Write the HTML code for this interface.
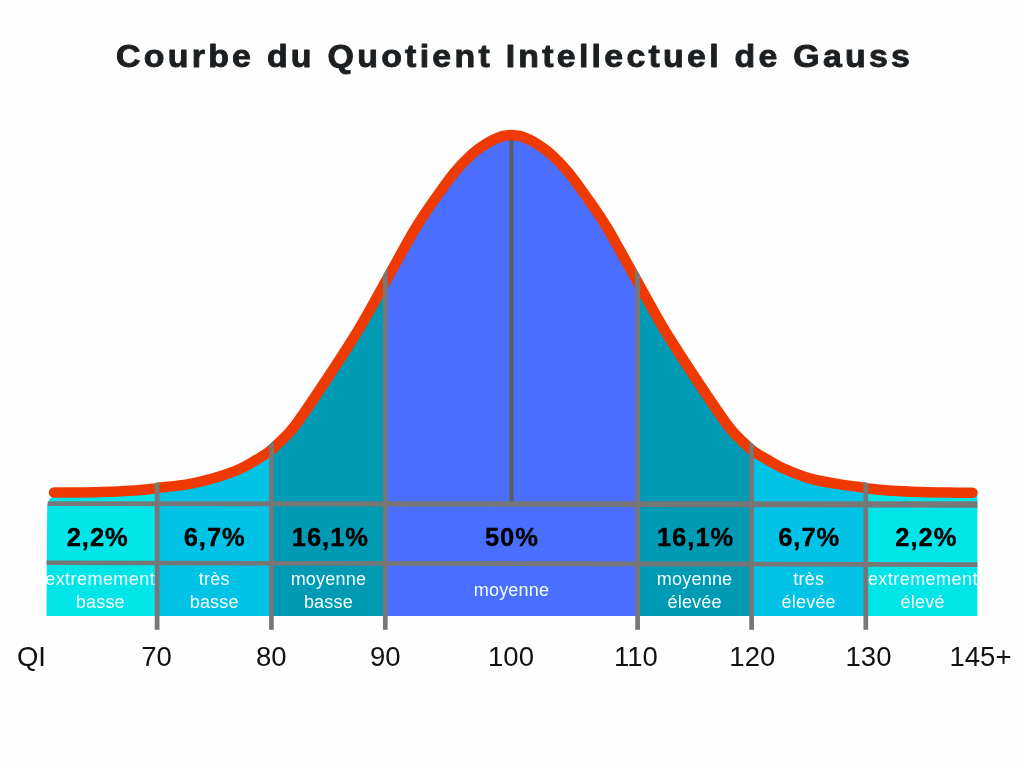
<!DOCTYPE html>
<html lang="fr"><head><meta charset="utf-8"><title>Courbe du Quotient Intellectuel de Gauss</title>
<style>
html,body{margin:0;padding:0;background:#fefefe;}
body{width:1024px;height:768px;overflow:hidden;position:relative;font-family:"Liberation Sans",sans-serif;}
svg{position:absolute;left:0;top:0;display:block}
.title{font:bold 32px "Liberation Sans",sans-serif;fill:#1b1f21;stroke:#1b1f21;stroke-width:0.9px;stroke-linejoin:round;letter-spacing:3.07px}
.pct{font:bold 25.5px "Liberation Sans",sans-serif;fill:#000;stroke:#000;stroke-width:0.35px;text-anchor:middle;letter-spacing:1px}
.lab{font:18px "Liberation Sans",sans-serif;fill:#f4ffff;text-anchor:middle;letter-spacing:0.2px}
.ex{letter-spacing:0.45px}
.ax{font:27.5px "Liberation Sans",sans-serif;fill:#111;text-anchor:middle}
</style></head><body>
<svg width="1024" height="768" viewBox="0 0 1024 768">
<defs>
<clipPath id="under"><path d="M45.90 616.10 L47.30 505.00 Q48.60 498.50 52.00 497.50 L54.00 492.50 C57.50 492.50 66.92 492.58 75.00 492.50 C83.08 492.42 93.33 492.28 102.50 492.00 C111.67 491.72 121.67 491.34 130.00 490.80 C138.33 490.26 147.50 489.30 152.50 488.75 C157.50 488.20 154.17 488.24 160.00 487.50 C165.83 486.76 178.75 485.80 187.50 484.30 C196.25 482.80 204.17 480.88 212.50 478.50 C220.83 476.12 230.21 473.10 237.50 470.00 C244.79 466.90 251.04 462.92 256.25 459.90 C261.46 456.88 265.12 454.60 268.75 451.90 C272.38 449.20 273.68 448.02 278.00 443.70 C282.32 439.38 286.45 436.95 294.70 426.00 C302.95 415.05 316.70 394.33 327.50 378.00 C338.30 361.67 349.50 344.67 359.50 328.00 C369.50 311.33 378.35 294.33 387.50 278.00 C396.65 261.67 407.32 242.00 414.40 230.00 C421.48 218.00 423.33 215.58 430.00 206.00 C436.67 196.42 447.40 181.15 454.40 172.50 C461.40 163.85 466.23 159.18 472.00 154.10 C477.77 149.02 484.33 144.85 489.00 142.00 C493.67 139.15 497.17 138.07 500.00 137.00 C502.83 135.93 504.09 135.93 506.00 135.60 C507.91 135.27 509.63 135.00 511.45 135.00 C513.27 135.00 514.99 135.27 516.90 135.60 C518.81 135.93 520.07 135.93 522.90 137.00 C525.73 138.07 529.23 139.15 533.90 142.00 C538.57 144.85 545.13 149.02 550.90 154.10 C556.67 159.18 561.50 163.85 568.50 172.50 C575.50 181.15 586.23 196.42 592.90 206.00 C599.57 215.58 601.42 218.00 608.50 230.00 C615.58 242.00 626.25 261.67 635.40 278.00 C644.55 294.33 653.40 311.33 663.40 328.00 C673.40 344.67 684.60 361.67 695.40 378.00 C706.20 394.33 719.95 415.05 728.20 426.00 C736.45 436.95 740.58 439.42 744.90 443.70 C749.22 447.98 750.52 449.12 754.15 451.70 C757.77 454.28 761.44 456.27 766.65 459.20 C771.86 462.13 778.11 466.07 785.40 469.30 C792.69 472.53 802.07 476.22 810.40 478.60 C818.73 480.98 826.65 482.12 835.40 483.60 C844.15 485.08 857.07 486.64 862.90 487.50 C868.73 488.36 865.40 488.20 870.40 488.75 C875.40 489.30 884.57 490.26 892.90 490.80 C901.23 491.34 910.88 491.70 920.40 492.00 C929.92 492.30 941.32 492.47 950.00 492.60 C958.68 492.73 968.75 492.77 972.50 492.80 L977.40 492.80 L977.40 616.10 L46.50 616.10 Z"/></clipPath>
<mask id="outer" maskUnits="userSpaceOnUse" x="0" y="0" width="1024" height="768"><path d="M45.90 616.10 L47.30 505.00 Q48.60 498.50 52.00 497.50 L54.00 492.50 C57.50 492.50 66.92 492.58 75.00 492.50 C83.08 492.42 93.33 492.28 102.50 492.00 C111.67 491.72 121.67 491.34 130.00 490.80 C138.33 490.26 147.50 489.30 152.50 488.75 C157.50 488.20 154.17 488.24 160.00 487.50 C165.83 486.76 178.75 485.80 187.50 484.30 C196.25 482.80 204.17 480.88 212.50 478.50 C220.83 476.12 230.21 473.10 237.50 470.00 C244.79 466.90 251.04 462.92 256.25 459.90 C261.46 456.88 265.12 454.60 268.75 451.90 C272.38 449.20 273.68 448.02 278.00 443.70 C282.32 439.38 286.45 436.95 294.70 426.00 C302.95 415.05 316.70 394.33 327.50 378.00 C338.30 361.67 349.50 344.67 359.50 328.00 C369.50 311.33 378.35 294.33 387.50 278.00 C396.65 261.67 407.32 242.00 414.40 230.00 C421.48 218.00 423.33 215.58 430.00 206.00 C436.67 196.42 447.40 181.15 454.40 172.50 C461.40 163.85 466.23 159.18 472.00 154.10 C477.77 149.02 484.33 144.85 489.00 142.00 C493.67 139.15 497.17 138.07 500.00 137.00 C502.83 135.93 504.09 135.93 506.00 135.60 C507.91 135.27 509.63 135.00 511.45 135.00 C513.27 135.00 514.99 135.27 516.90 135.60 C518.81 135.93 520.07 135.93 522.90 137.00 C525.73 138.07 529.23 139.15 533.90 142.00 C538.57 144.85 545.13 149.02 550.90 154.10 C556.67 159.18 561.50 163.85 568.50 172.50 C575.50 181.15 586.23 196.42 592.90 206.00 C599.57 215.58 601.42 218.00 608.50 230.00 C615.58 242.00 626.25 261.67 635.40 278.00 C644.55 294.33 653.40 311.33 663.40 328.00 C673.40 344.67 684.60 361.67 695.40 378.00 C706.20 394.33 719.95 415.05 728.20 426.00 C736.45 436.95 740.58 439.42 744.90 443.70 C749.22 447.98 750.52 449.12 754.15 451.70 C757.77 454.28 761.44 456.27 766.65 459.20 C771.86 462.13 778.11 466.07 785.40 469.30 C792.69 472.53 802.07 476.22 810.40 478.60 C818.73 480.98 826.65 482.12 835.40 483.60 C844.15 485.08 857.07 486.64 862.90 487.50 C868.73 488.36 865.40 488.20 870.40 488.75 C875.40 489.30 884.57 490.26 892.90 490.80 C901.23 491.34 910.88 491.70 920.40 492.00 C929.92 492.30 941.32 492.47 950.00 492.60 C958.68 492.73 968.75 492.77 972.50 492.80 L977.40 492.80 L977.40 616.10 L46.50 616.10 Z" fill="#fff"/><path d="M54.00 492.50 C57.50 492.50 66.92 492.58 75.00 492.50 C83.08 492.42 93.33 492.28 102.50 492.00 C111.67 491.72 121.67 491.34 130.00 490.80 C138.33 490.26 147.50 489.30 152.50 488.75 C157.50 488.20 154.17 488.24 160.00 487.50 C165.83 486.76 178.75 485.80 187.50 484.30 C196.25 482.80 204.17 480.88 212.50 478.50 C220.83 476.12 230.21 473.10 237.50 470.00 C244.79 466.90 251.04 462.92 256.25 459.90 C261.46 456.88 265.12 454.60 268.75 451.90 C272.38 449.20 273.68 448.02 278.00 443.70 C282.32 439.38 286.45 436.95 294.70 426.00 C302.95 415.05 316.70 394.33 327.50 378.00 C338.30 361.67 349.50 344.67 359.50 328.00 C369.50 311.33 378.35 294.33 387.50 278.00 C396.65 261.67 407.32 242.00 414.40 230.00 C421.48 218.00 423.33 215.58 430.00 206.00 C436.67 196.42 447.40 181.15 454.40 172.50 C461.40 163.85 466.23 159.18 472.00 154.10 C477.77 149.02 484.33 144.85 489.00 142.00 C493.67 139.15 497.17 138.07 500.00 137.00 C502.83 135.93 504.09 135.93 506.00 135.60 C507.91 135.27 509.63 135.00 511.45 135.00 C513.27 135.00 514.99 135.27 516.90 135.60 C518.81 135.93 520.07 135.93 522.90 137.00 C525.73 138.07 529.23 139.15 533.90 142.00 C538.57 144.85 545.13 149.02 550.90 154.10 C556.67 159.18 561.50 163.85 568.50 172.50 C575.50 181.15 586.23 196.42 592.90 206.00 C599.57 215.58 601.42 218.00 608.50 230.00 C615.58 242.00 626.25 261.67 635.40 278.00 C644.55 294.33 653.40 311.33 663.40 328.00 C673.40 344.67 684.60 361.67 695.40 378.00 C706.20 394.33 719.95 415.05 728.20 426.00 C736.45 436.95 740.58 439.42 744.90 443.70 C749.22 447.98 750.52 449.12 754.15 451.70 C757.77 454.28 761.44 456.27 766.65 459.20 C771.86 462.13 778.11 466.07 785.40 469.30 C792.69 472.53 802.07 476.22 810.40 478.60 C818.73 480.98 826.65 482.12 835.40 483.60 C844.15 485.08 857.07 486.64 862.90 487.50 C868.73 488.36 865.40 488.20 870.40 488.75 C875.40 489.30 884.57 490.26 892.90 490.80 C901.23 491.34 910.88 491.70 920.40 492.00 C929.92 492.30 941.32 492.47 950.00 492.60 C958.68 492.73 968.75 492.77 972.50 492.80" fill="none" stroke="#fff" stroke-width="10.5" stroke-linecap="round"/><rect x="0" y="500" width="1024" height="200" fill="#fff"/></mask>
</defs>
<text x="0" y="0" transform="translate(116 67.4) scale(1.06 1)" class="title">Courbe du Quotient Intellectuel de Gauss</text>
<g clip-path="url(#under)">
<rect x="46.50" y="100" width="111.10" height="516.10" fill="#02e5e8"/>
<rect x="157.10" y="100" width="114.80" height="516.10" fill="#00c3e6"/>
<rect x="271.40" y="100" width="114.40" height="516.10" fill="#009ab4"/>
<rect x="385.30" y="100" width="252.80" height="516.10" fill="#4a6eff"/>
<rect x="637.60" y="100" width="114.50" height="516.10" fill="#009ab4"/>
<rect x="751.60" y="100" width="114.70" height="516.10" fill="#00c3e6"/>
<rect x="865.80" y="100" width="112.10" height="516.10" fill="#02e5e8"/>
</g>
<rect x="509.50" y="135" width="3.9" height="369" fill="#5e5c5a"/>
<path d="M54.00 492.50 C57.50 492.50 66.92 492.58 75.00 492.50 C83.08 492.42 93.33 492.28 102.50 492.00 C111.67 491.72 121.67 491.34 130.00 490.80 C138.33 490.26 147.50 489.30 152.50 488.75 C157.50 488.20 154.17 488.24 160.00 487.50 C165.83 486.76 178.75 485.80 187.50 484.30 C196.25 482.80 204.17 480.88 212.50 478.50 C220.83 476.12 230.21 473.10 237.50 470.00 C244.79 466.90 251.04 462.92 256.25 459.90 C261.46 456.88 265.12 454.60 268.75 451.90 C272.38 449.20 273.68 448.02 278.00 443.70 C282.32 439.38 286.45 436.95 294.70 426.00 C302.95 415.05 316.70 394.33 327.50 378.00 C338.30 361.67 349.50 344.67 359.50 328.00 C369.50 311.33 378.35 294.33 387.50 278.00 C396.65 261.67 407.32 242.00 414.40 230.00 C421.48 218.00 423.33 215.58 430.00 206.00 C436.67 196.42 447.40 181.15 454.40 172.50 C461.40 163.85 466.23 159.18 472.00 154.10 C477.77 149.02 484.33 144.85 489.00 142.00 C493.67 139.15 497.17 138.07 500.00 137.00 C502.83 135.93 504.09 135.93 506.00 135.60 C507.91 135.27 509.63 135.00 511.45 135.00 C513.27 135.00 514.99 135.27 516.90 135.60 C518.81 135.93 520.07 135.93 522.90 137.00 C525.73 138.07 529.23 139.15 533.90 142.00 C538.57 144.85 545.13 149.02 550.90 154.10 C556.67 159.18 561.50 163.85 568.50 172.50 C575.50 181.15 586.23 196.42 592.90 206.00 C599.57 215.58 601.42 218.00 608.50 230.00 C615.58 242.00 626.25 261.67 635.40 278.00 C644.55 294.33 653.40 311.33 663.40 328.00 C673.40 344.67 684.60 361.67 695.40 378.00 C706.20 394.33 719.95 415.05 728.20 426.00 C736.45 436.95 740.58 439.42 744.90 443.70 C749.22 447.98 750.52 449.12 754.15 451.70 C757.77 454.28 761.44 456.27 766.65 459.20 C771.86 462.13 778.11 466.07 785.40 469.30 C792.69 472.53 802.07 476.22 810.40 478.60 C818.73 480.98 826.65 482.12 835.40 483.60 C844.15 485.08 857.07 486.64 862.90 487.50 C868.73 488.36 865.40 488.20 870.40 488.75 C875.40 489.30 884.57 490.26 892.90 490.80 C901.23 491.34 910.88 491.70 920.40 492.00 C929.92 492.30 941.32 492.47 950.00 492.60 C958.68 492.73 968.75 492.77 972.50 492.80" fill="none" stroke="#ee3a00" stroke-width="10.5" stroke-linecap="round" stroke-linejoin="round"/>
<g>
<polygon points="47.9,501.25 977.4,501.25 977.4,507.8 47.5,505.9" fill="#777"/>
<polygon points="46.5,560.5 977.4,562.2 977.4,566.9 46.5,565.1" fill="#777"/>
</g>
<g id="vl" mask="url(#outer)">
<rect x="154.75" y="100" width="4.7" height="529.80" fill="#777"/>
<rect x="269.05" y="100" width="4.7" height="529.80" fill="#777"/>
<rect x="382.95" y="100" width="4.7" height="529.80" fill="#777"/>
<rect x="635.25" y="100" width="4.7" height="529.80" fill="#777"/>
<rect x="749.25" y="100" width="4.7" height="529.80" fill="#777"/>
<rect x="863.45" y="100" width="4.7" height="529.80" fill="#777"/>
</g>
<text x="97.7" y="545.7" class="pct">2,2%</text>
<text x="100.2" y="585" class="lab ex">extremement</text>
<text x="100.3" y="608" class="lab">basse</text>
<text x="214.7" y="545.7" class="pct">6,7%</text>
<text x="214.2" y="585" class="lab">très</text>
<text x="214.2" y="608" class="lab">basse</text>
<text x="330.4" y="545.7" class="pct">16,1%</text>
<text x="328.4" y="585" class="lab">moyenne</text>
<text x="328.4" y="608" class="lab">basse</text>
<text x="511.9" y="545.7" class="pct">50%</text>
<text x="511.5" y="596.3" class="lab">moyenne</text>
<text x="695.6" y="545.7" class="pct">16,1%</text>
<text x="694.6" y="585" class="lab">moyenne</text>
<text x="694.6" y="608" class="lab">élevée</text>
<text x="809.2" y="545.7" class="pct">6,7%</text>
<text x="808.7" y="585" class="lab">très</text>
<text x="808.7" y="608" class="lab">élevée</text>
<text x="926.4" y="545.7" class="pct">2,2%</text>
<text x="922.9" y="585" class="lab ex">extremement</text>
<text x="922.6" y="608" class="lab">élevé</text>
<text x="31.5" y="666" class="ax">QI</text>
<text x="156.5" y="666" class="ax">70</text>
<text x="271.3" y="666" class="ax">80</text>
<text x="385.3" y="666" class="ax">90</text>
<text x="511.0" y="666" class="ax">100</text>
<text x="635.8" y="666" class="ax">110</text>
<text x="752.3" y="666" class="ax">120</text>
<text x="868.5" y="666" class="ax">130</text>
<text x="980.5" y="666" class="ax">145+</text>

</svg>
</body></html>
